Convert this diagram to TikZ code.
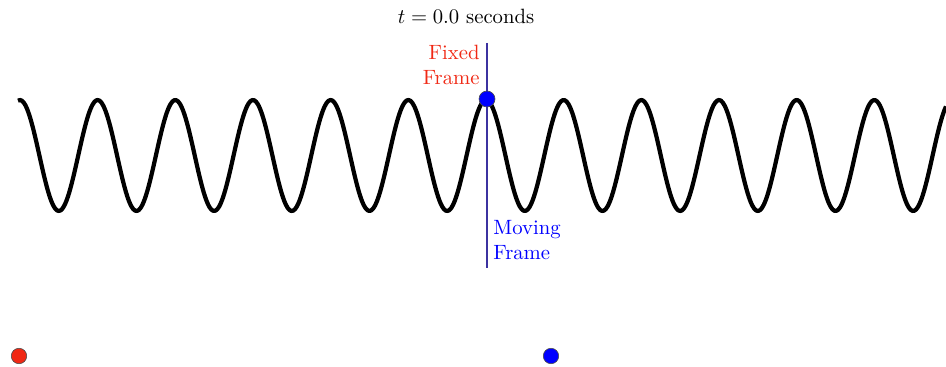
\documentclass[tikz,border=0pt]{standalone}
\definecolor{frameline}{RGB}{60,50,160}
\definecolor{fixedred}{RGB}{240,40,20}
\tikzset{
  wave/.style={line width=2.1pt,black,line join=round},
  dot/.style={circle,inner sep=0pt,minimum size=#1,draw=black!70,line width=0.3pt},
  lbl/.style={align=#1,inner sep=1pt,scale=1.03}
}
\begin{document}
\begin{tikzpicture}[x=0.0175cm,y=-0.0175cm]
\useasboundingbox (0,0) rectangle (946,367);
% travelling wave
\draw[wave] plot[domain=18:946,samples=500,smooth] (\x,{155.5-55.5*cos(4.635*(\x-486))});
% frame marker
\coordinate (top) at (487,43);
\coordinate (bot) at (487,268);
\draw[frameline,line width=0.8pt] (top) -- (bot);
\node[dot=0.28cm,fill=blue] (wdot) at (487,99) {};
\node[scale=1.03] (title) at (466,16) {$t = 0.0$ seconds};
\node[lbl=right,text=fixedred,anchor=east] (fixed) at (482,65) {Fixed\\Frame};
\node[lbl=left,text=blue,anchor=west] (moving) at (491,240) {Moving\\Frame};
% reference dots
\node[dot=0.27cm,fill=fixedred] (rdot) at (19,356) {};
\node[dot=0.27cm,fill=blue] (bdot) at (551,356) {};
\end{tikzpicture}
\end{document}
